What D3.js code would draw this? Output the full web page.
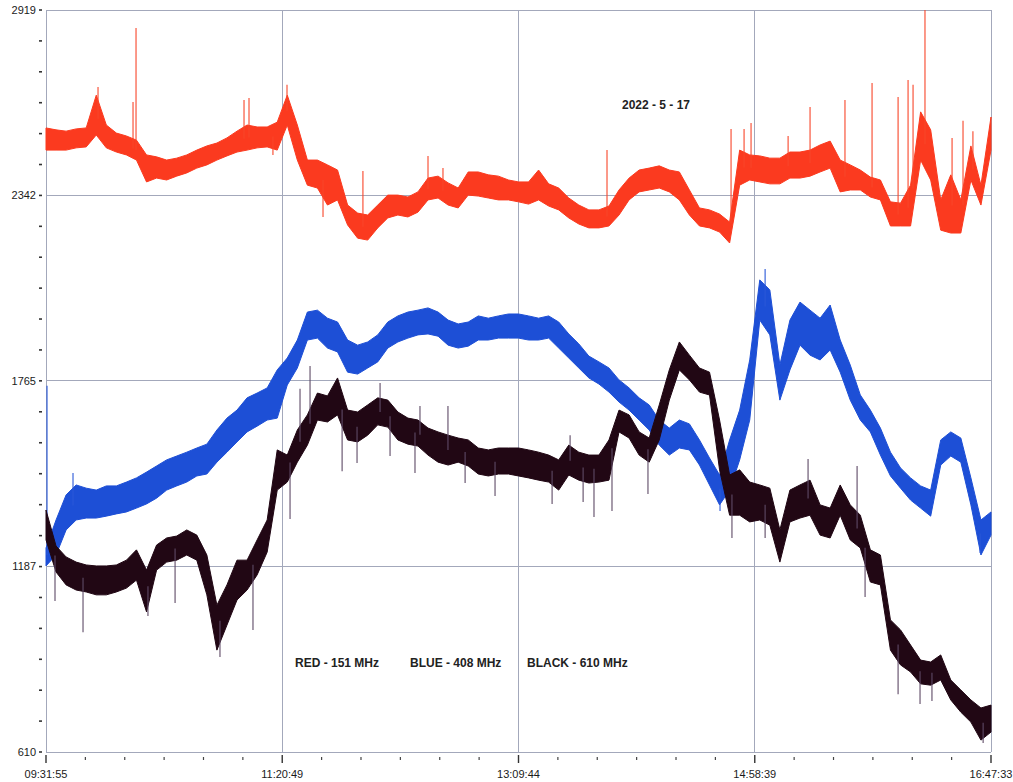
<!DOCTYPE html>
<html>
<head>
<meta charset="utf-8">
<script src="https://cdn.jsdelivr.net/npm/d3@7"></script>
<style>
  html, body { margin: 0; padding: 0; background: #ffffff; }
  svg { display: block; }
  text { font-family: "Liberation Sans", Arial, sans-serif; }
</style>
</head>
<body>
<svg id="chart" width="1013" height="782"></svg>
<script>
// ---------------- DATA ----------------
const timeStart = "09:31:55";
const timeEnd = "16:47:33";
const xTickLabels = ["09:31:55", "11:20:49", "13:09:44", "14:58:39", "16:47:33"];
const yTickValues = [610, 1187, 1765, 2342, 2919];
const dateLabel = "2022 - 5 - 17";
const legendLabels = ["RED - 151 MHz", "BLUE - 408 MHz", "BLACK - 610 MHz"];

// Band envelopes (upper / lower edge of the noisy trace), sampled evenly from start to end
const redHi = [2552,2546,2542,2549,2552,2654,2561,2536,2527,2514,
  2468,2462,2452,2458,2468,2483,2496,2505,2521,2542,
  2561,2555,2555,2570,2654,2561,2452,2452,2437,2421,
  2312,2287,2281,2312,2343,2343,2337,2353,2396,2402,
  2381,2365,2415,2415,2406,2402,2390,2384,2384,2421,
  2378,2365,2334,2312,2297,2297,2309,2359,2396,2421,
  2427,2434,2421,2415,2359,2303,2297,2284,2259,2483,
  2468,2465,2458,2458,2477,2477,2483,2499,2511,2452,
  2437,2421,2399,2390,2322,2318,2374,2602,2546,2328,
  2406,2328,2496,2374,2586];
const redLo = [2483,2483,2483,2490,2493,2530,2490,2477,2468,2452,
  2384,2396,2390,2402,2412,2427,2437,2452,2465,2477,
  2483,2490,2493,2483,2561,2452,2374,2365,2312,2328,
  2250,2209,2203,2241,2272,2281,2275,2290,2328,2334,
  2312,2303,2343,2340,2334,2328,2328,2322,2315,2328,
  2309,2297,2272,2253,2241,2241,2247,2281,2328,2353,
  2359,2365,2353,2328,2281,2247,2241,2228,2194,2374,
  2390,2384,2378,2378,2396,2396,2402,2415,2427,2353,
  2359,2359,2337,2328,2247,2247,2247,2452,2390,2234,
  2225,2225,2390,2312,2483];

const blueHi = [1245,1332,1410,1441,1431,1425,1438,1438,1450,1463,
  1481,1500,1519,1531,1543,1556,1568,1612,1649,1674,
  1712,1727,1743,1799,1836,1892,1979,1985,1960,1948,
  1892,1876,1886,1908,1948,1967,1979,1985,1992,1979,
  1954,1942,1948,1967,1960,1967,1973,1973,1967,1960,
  1967,1948,1911,1880,1842,1824,1805,1768,1743,1712,
  1690,1643,1618,1643,1631,1581,1525,1472,1581,1674,
  1830,2079,2048,1814,1954,2010,1985,1960,2001,1892,
  1814,1721,1674,1618,1543,1494,1463,1438,1425,1581,
  1606,1587,1463,1332,1357];
const blueLo = [1189,1223,1301,1332,1338,1338,1344,1351,1357,1369,
  1382,1400,1425,1438,1450,1469,1475,1512,1543,1575,
  1606,1624,1643,1649,1752,1805,1892,1898,1867,1855,
  1792,1786,1805,1824,1867,1886,1898,1908,1911,1904,
  1876,1867,1873,1892,1892,1898,1898,1898,1892,1892,
  1898,1867,1836,1805,1774,1755,1730,1699,1674,1643,
  1612,1565,1534,1556,1550,1503,1441,1379,1425,1519,
  1643,1954,1908,1705,1799,1876,1845,1830,1861,1792,
  1705,1643,1606,1534,1469,1431,1394,1369,1344,1503,
  1531,1512,1379,1223,1285];

const blackHi = [1363,1251,1217,1201,1192,1189,1189,1192,1207,1239,
  1176,1254,1276,1282,1301,1285,1223,1067,1130,1207,
  1207,1270,1332,1550,1534,1612,1659,1727,1718,1774,
  1674,1668,1690,1712,1705,1668,1649,1643,1618,1606,
  1596,1587,1581,1556,1550,1556,1556,1556,1550,1543,
  1534,1519,1565,1543,1534,1534,1581,1674,1659,1606,
  1587,1690,1799,1886,1845,1805,1792,1643,1472,1488,
  1450,1441,1431,1301,1425,1441,1456,1379,1369,1441,
  1379,1347,1239,1223,1021,990,943,896,890,912,
  834,803,772,747,756];
const blackLo = [1270,1170,1130,1114,1108,1099,1099,1108,1120,1145,
  1046,1176,1201,1207,1223,1207,1099,927,1005,1083,
  1114,1161,1232,1425,1450,1512,1565,1643,1637,1659,
  1581,1575,1596,1628,1621,1581,1568,1562,1534,1512,
  1503,1512,1500,1475,1469,1475,1475,1469,1463,1456,
  1450,1425,1472,1456,1447,1450,1456,1606,1587,1534,
  1512,1581,1705,1799,1768,1730,1721,1488,1347,1347,
  1326,1332,1316,1201,1326,1338,1347,1285,1276,1347,
  1270,1245,1139,1130,927,881,859,822,818,834,
  772,734,703,647,672];

// Isolated spikes: [time, peak value]
const redSpikes = [["09:55:54",2679],["10:12:02",2633],["10:13:25",2863],["11:03:12",2639],
  ["11:05:30",2645],["11:16:32",2468],["11:23:01",2686],["11:39:37",2275],["11:58:01",2418],
  ["12:28:01",2465],["12:34:55",2427],["13:50:32",2483],["14:47:43",2549],["14:53:43",2549],
  ["14:56:56",2567],["15:14:01",2527],["15:24:08",2617],["15:40:14",2639],["15:52:43",2692],
  ["16:04:43",2648],["16:09:19",2701],["16:11:37",2686],["16:17:07",2919],["16:29:36",2521],
  ["16:34:39",2574],["16:39:13",2542]];
const blueSpikes = [["09:32:23",1750],["09:44:22",1478],["14:42:38",1360],["15:03:25",2113],
  ["16:42:31",1229]];
const blackSpikes = [["09:36:04",1080],["09:48:59",983],["10:18:55",1033],["10:31:25",1074],
  ["10:52:07",906],["11:07:20",990],["11:24:25",1335],["11:29:01",1740],["11:33:38",1811],
  ["11:48:25",1484],["11:55:18",1509],["12:05:55",1758],["12:10:31",1531],["12:22:01",1478],
  ["12:24:19",1687],["12:37:13",1687],["12:45:07",1447],["12:58:55",1407],["13:25:13",1382],
  ["13:33:31",1596],["13:39:31",1388],["13:44:32",1341],["13:52:50",1360],["14:09:25",1413],
  ["14:48:08",1276],["15:03:25",1276],["15:23:13",1522],["15:45:49",1500],["15:49:30",1092],
  ["16:04:43",790],["16:14:50",759],["16:20:20",769],["16:43:55",638]];

// ---------------- DRAW ----------------
const parseT = s => { const p = s.split(":").map(Number); return p[0]*3600 + p[1]*60 + p[2]; };
const t0 = parseT(timeStart), t1 = parseT(timeEnd);

const svg = d3.select("#chart");
const L = 46, R = 991, T = 10, B = 752;
const x = d3.scaleLinear().domain([t0, t1]).range([L, R]);
const y = d3.scaleLinear().domain([yTickValues[0], yTickValues[yTickValues.length-1]]).range([B, T]);

const gridColor = "#a3a8bb";
// grid + frame
const xMajor = xTickLabels.map(parseT);
svg.append("g").selectAll("line").data(yTickValues).join("line")
  .attr("x1", L).attr("x2", R).attr("y1", d => y(d)).attr("y2", d => y(d))
  .attr("stroke", gridColor).attr("stroke-width", 1).attr("shape-rendering", "crispEdges");
svg.append("g").selectAll("line").data(xMajor).join("line")
  .attr("y1", T).attr("y2", B).attr("x1", d => x(d)).attr("x2", d => x(d))
  .attr("stroke", gridColor).attr("stroke-width", 1).attr("shape-rendering", "crispEdges");

// y ticks (major + 5 minor between)
const yMinor = [];
for (let i = 0; i < yTickValues.length - 1; i++) {
  for (let k = 0; k < 6; k++) yMinor.push(yTickValues[i] + (yTickValues[i+1]-yTickValues[i]) * k / 6);
}
yMinor.push(yTickValues[yTickValues.length-1]);
svg.append("g").selectAll("line").data(yMinor).join("line")
  .attr("x1", 39).attr("x2", 42).attr("y1", d => y(d)).attr("y2", d => y(d))
  .attr("stroke", "#333").attr("stroke-width", 1.6);
svg.append("g").selectAll("text").data(yTickValues).join("text")
  .attr("x", 36).attr("y", d => y(d)).attr("dy", "0.35em")
  .attr("text-anchor", "end").attr("font-size", 11).attr("fill", "#1a1a1a")
  .text(d => d);

// x ticks
const xMinor = [];
for (let i = 0; i < xMajor.length - 1; i++) {
  for (let k = 1; k < 6; k++) xMinor.push(xMajor[i] + (xMajor[i+1]-xMajor[i]) * k / 6);
}
svg.append("g").selectAll("line").data(xMinor).join("line")
  .attr("x1", d => x(d)).attr("x2", d => x(d)).attr("y1", 757).attr("y2", 760)
  .attr("stroke", "#444").attr("stroke-width", 1.2);
svg.append("g").selectAll("line").data(xMajor).join("line")
  .attr("x1", d => x(d)).attr("x2", d => x(d)).attr("y1", 755).attr("y2", 763)
  .attr("stroke", "#333").attr("stroke-width", 1.4);
svg.append("g").selectAll("text").data(xTickLabels).join("text")
  .attr("x", d => x(parseT(d))).attr("y", 778)
  .attr("text-anchor", "middle").attr("font-size", 11).attr("fill", "#1a1a1a")
  .text(d => d);

// series
function sampleTimes(n) { return d3.range(n).map(i => t0 + (t1 - t0) * i / (n - 1)); }
function drawSeries(hi, lo, spikes, color, spikeColor) {
  const ts = sampleTimes(hi.length);
  const rows = ts.map((t, i) => ({ t, hi: hi[i], lo: lo[i] }));
  const area = d3.area().x(d => x(d.t)).y0(d => y(d.lo)).y1(d => y(d.hi));
  svg.append("path").datum(rows).attr("d", area)
    .attr("fill", color).attr("stroke", color).attr("stroke-width", 1).attr("stroke-linejoin", "bevel");
  const midAt = t => {
    const i = Math.max(1, Math.min(ts.length - 1, d3.bisectLeft(ts, t)));
    const a = rows[i-1], b = rows[i];
    const f = (t - a.t) / (b.t - a.t);
    return ((a.hi + a.lo) / 2) * (1 - f) + ((b.hi + b.lo) / 2) * f;
  };
  svg.append("g").selectAll("line").data(spikes).join("line")
    .attr("x1", d => x(parseT(d[0]))).attr("x2", d => x(parseT(d[0])))
    .attr("y1", d => y(midAt(parseT(d[0])))).attr("y2", d => y(d[1]))
    .attr("stroke", spikeColor).attr("stroke-width", 1.1);
}
drawSeries(redHi, redLo, redSpikes, "#fb3a1f", "#f8462a");
drawSeries(blueHi, blueLo, blueSpikes, "#1d4fd6", "#2a58d8");
drawSeries(blackHi, blackLo, blackSpikes, "#210714", "#5e4a66");

// annotations
svg.append("text").attr("x", 622).attr("y", 109).attr("font-size", 12).attr("font-weight", "bold")
  .attr("fill", "#222").text(dateLabel);
const legendX = [295, 410, 527];
svg.append("g").selectAll("text").data(legendLabels).join("text")
  .attr("x", (d, i) => legendX[i]).attr("y", 667)
  .attr("font-size", 12).attr("font-weight", "bold").attr("fill", "#222")
  .text(d => d);
</script>
</body>
</html>
